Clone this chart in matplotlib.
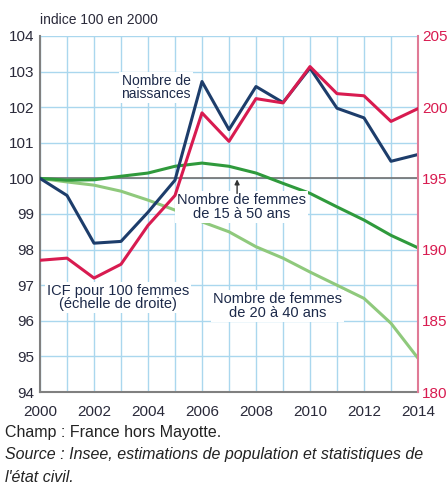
import matplotlib
matplotlib.use("Agg")
from matplotlib import pyplot as plt

plt.rcParams['font.family'] = ['Liberation Sans Narrow', 'Liberation Sans', 'DejaVu Sans']

annees = list(range(2000, 2015))
# indices base 100 en 2000 (échelle de gauche)
naissances = [100, 99.52, 98.18, 98.23, 99.05, 99.95, 102.72, 101.37, 102.58, 102.13,
              103.1, 101.97, 101.7, 100.48, 100.67]
femmes_15_50 = [100, 99.95, 99.96, 100.06, 100.15, 100.34, 100.43, 100.34, 100.15, 99.86,
                99.58, 99.2, 98.83, 98.4, 98.05]
femmes_20_40 = [100, 99.9, 99.81, 99.64, 99.39, 99.11, 98.78, 98.5, 98.08, 97.76,
                97.37, 97.0, 96.63, 95.93, 94.95]
# ICF pour 100 femmes (échelle de droite)
icf = [189.25, 189.4, 188.0, 188.97, 191.7, 193.8, 199.6, 197.6, 200.6, 200.3,
       202.85, 200.95, 200.8, 199.0, 199.9]

bleu = '#1d3d6b'
rouge = '#d81b50'
vert = '#2f9a3c'
vert_clair = '#8fc97c'
grille = '#aad7ee'

fig = plt.figure(figsize=(4.48, 4.86), dpi=100)
ax = fig.add_axes([0.0893, 0.1934, 0.8437, 0.7326])
ax2 = ax.twinx()

ax.set_xlim(2000, 2014)
ax.set_ylim(94, 104)
ax2.set_ylim(180, 205)

ax.set_xticks(range(2000, 2015), minor=True)
ax.set_xticks(range(2000, 2015, 2))
ax.set_yticks(range(94, 105))
ax2.set_yticks(range(180, 206, 5))
ax.grid(True, which='both', axis='x', color=grille, lw=1)
ax.grid(True, which='major', axis='y', color=grille, lw=1)
ax.set_axisbelow(True)
ax.axhline(100, color='#707070', lw=1.2, zorder=1)

ax.plot(annees, femmes_20_40, color=vert_clair, lw=2.2, zorder=3)
ax.plot(annees, femmes_15_50, color=vert, lw=2.2, zorder=3)
ax.plot(annees, naissances, color=bleu, lw=2.2, zorder=4)
ax2.plot(annees, icf, color=rouge, lw=2.2, zorder=4)

for s in ['top', 'right']:
    ax.spines[s].set_visible(False)
ax2.spines['top'].set_visible(False)
ax2.spines['left'].set_visible(False)
ax2.spines['bottom'].set_visible(False)
ax.spines['left'].set_color('#808080')
ax.spines['bottom'].set_color('#808080')
ax.spines['left'].set_linewidth(1.5)
ax.spines['bottom'].set_linewidth(1.5)
ax2.spines['right'].set_color('#e07a96')
ax2.spines['right'].set_linewidth(1.5)

ax.tick_params(axis='both', which='both', length=0, labelsize=11, colors='#2a2a3a')
ax.tick_params(axis='x', pad=9)
ax.tick_params(axis='y', pad=4)
ax2.tick_params(axis='y', length=0, labelsize=11, colors=rouge, pad=3)

fig.text(0.089, 0.959, 'indice 100 en 2000', fontsize=10, color='#2a2a3a', ha='left', va='center')

boite = dict(facecolor='white', edgecolor='none', pad=1.5)
ax.text(2004.3, 102.55, 'Nombre de\nnaissances', fontsize=10, color='#1d2a4a',
        ha='center', va='center', linespacing=0.95, bbox=boite, zorder=3.5)
ax.text(2007.45, 99.2, 'Nombre de femmes\nde 15 à 50 ans', fontsize=10.5, color='#1d2a4a',
        ha='center', va='center', linespacing=0.95, bbox=boite, zorder=5)
ax.annotate('', xy=(2007.3, 100.05), xytext=(2007.3, 99.5),
            arrowprops=dict(arrowstyle='-|>', color='#333333', lw=1, mutation_scale=7), zorder=6)
ax.text(2002.9, 96.66, 'ICF pour 100 femmes\n(échelle de droite)', fontsize=10.5, color='#1d2a4a',
        ha='center', va='center', linespacing=0.95, bbox=boite, zorder=5)
ax.text(2008.8, 96.42, 'Nombre de femmes\nde 20 à 40 ans', fontsize=10.5, color='#1d2a4a',
        ha='center', va='center', linespacing=0.95, bbox=boite, zorder=5)

fig.text(0.012, 0.111, 'Champ : France hors Mayotte.', fontsize=11.5, color='#222222', va='center')
fig.text(0.012, 0.064, 'Source : Insee, estimations de population et statistiques de',
         fontsize=11.5, color='#222222', va='center', style='italic')
fig.text(0.012, 0.018, "l'état civil.", fontsize=11.5, color='#222222', va='center', style='italic')

plt.savefig('out.png', dpi=100)
